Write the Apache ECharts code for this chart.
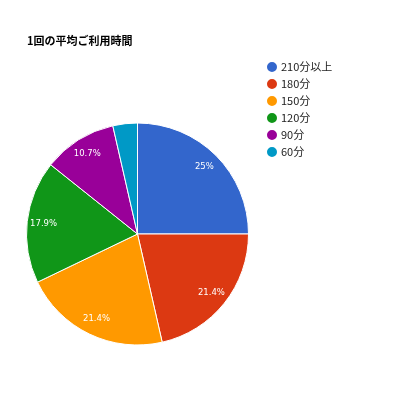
<!DOCTYPE html>
<html><head><meta charset="utf-8">
<script src="https://cdn.jsdelivr.net/npm/echarts@6/dist/echarts.min.js"></script>
<style>html,body{margin:0;padding:0;background:#fff}#c{width:400px;height:400px}</style>
</head><body><div id="c"></div>
<script>
const categories = ['210分以上','180分','150分','120分','90分','60分'];
const values = [7, 6, 6, 5, 3, 1];
const labels = ['25%','21.4%','21.4%','17.9%','10.7%',''];
const colors = ['#3366cc','#dc3912','#ff9900','#109618','#990099','#0099c6'];
const data = categories.map((n,i)=>({name:n,value:values[i]}));
const chart = echarts.init(document.getElementById('c'), null, {renderer:'canvas'});
chart.setOption({
  animation:false,
  color: colors,
  title:{text:'1回の平均ご利用時間', left:22, top:30,
    textStyle:{fontSize:11, fontWeight:'bold', color:'#000', fontFamily:'Noto Sans CJK JP'}},
  legend:{orient:'vertical', left:260, top:55, icon:'circle', itemWidth:12, itemHeight:12,
    itemGap:3, data:categories,
    textStyle:{fontSize:11, color:'#222', fontFamily:'Noto Sans CJK JP', padding:[0,0,0,-2]}},
  series:[
    {type:'pie', center:[137.5,234], radius:[0,111], startAngle:90, clockwise:true,
     data:data, label:{show:false}, labelLine:{show:false},
     itemStyle:{borderColor:'#fff', borderWidth:1}, emphasis:{disabled:true}},
    {type:'pie', center:[137.5,234], radius:[72,111], startAngle:90, clockwise:true, silent:true,
     legendHoverLink:false,
     data:data.map((d,i)=>({name:d.name,value:d.value,label:{formatter:labels[i]}})),
     itemStyle:{color:'transparent', borderWidth:0},
     label:{show:true, position:'inside', color:'#fff', fontSize:8.5, fontFamily:'DejaVu Sans'},
     labelLine:{show:false}, emphasis:{disabled:true}}
  ]
});
</script></body></html>
